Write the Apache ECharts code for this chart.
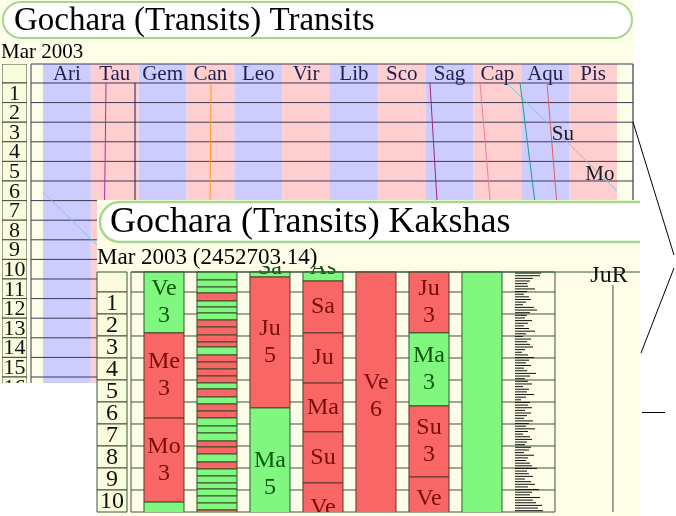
<!DOCTYPE html>
<html>
<head>
<meta charset="utf-8">
<script src="https://cdn.jsdelivr.net/npm/echarts@6/dist/echarts.min.js"></script>
<style>
html,body{margin:0;padding:0;background:#ffffff;}
#chart{width:676px;height:516px;}
</style>
</head>
<body>
<div id="chart"></div>
<script>
// ---------------- DATA ----------------
const backTitle = 'Gochara (Transits) Transits';
const backSubtitle = 'Mar 2003';
const frontTitle = 'Gochara (Transits) Kakshas';
const frontSubtitle = 'Mar 2003 (2452703.14)';

const signNames = ['Ari','Tau','Gem','Can','Leo','Vir','Lib','Sco','Sag','Cap','Aqu','Pis'];
const backDays = [1,2,3,4,5,6,7,8,9,10,11,12,13,14,15,16];

// planet tracks: [sidereal longitude in degrees, days elapsed]
const sunTrack     = [[316.1,0],[319.1,3],[322.1,6],[325.1,9],[328.1,12],[331.4,15.3]];
const moonTrackA   = [[291,0],[303.5,1],[316,2],[328.5,3],[341,4],[353.5,5],[360,5.52]];
const moonTrackB   = [[0,5.56],[5.5,6],[18,7],[30.5,8],[43,9],[55.5,10],[68,11],[80.5,12],[93,13],[105.5,14],[118,15],[122,15.3]];
const mercuryTrack = [[299.2,0],[303.8,3],[308.4,6],[313.0,9],[317.6,12],[322.2,15.3]];
const venusTrack   = [[274.1,0],[277.3,3],[280.4,6],[283.6,9],[286.8,12],[290.2,15.3]];
const marsTrack    = [[242.7,0],[244.9,3],[247.1,6],[249.3,9],[251.5,12],[253.8,15.3]];
const jupiterTrack = [[105.4,0],[105.1,3],[104.8,6],[104.5,9],[104.3,12],[104.1,15.3]];
const saturnTrack  = [[57.7,0],[57.7,6],[57.8,12],[57.9,15.3]];
const rahuTrack    = [[39.5,0],[39.1,3],[38.6,6],[38.3,9],[38.1,12],[38.0,15.3]];
const planetLabels = [['Su',326.1,2.65],['Mo',349.3,4.69]];

const frontRows = [1,2,3,4,5,6,7,8,9,10];
// kaksha segments: [start deg, end deg, good(1)/bad(0), planet, count]
const kakshaCol1 = [[-0.909,1.86,1,'Ve','3'],[1.86,5.73,0,'Me','3'],[5.73,9.55,0,'Mo','3'],[9.55,13.4,1,'','']];
const kakshaStripes = [[-0.909,-0.545,1],[-0.545,-0.227,1],[-0.227,0.045,1],[0.045,0.409,0],[0.409,0.682,1],
  [0.682,0.955,1],[0.955,1.273,1],[1.273,1.591,0],[1.591,1.955,0],[1.955,2.273,0],[2.273,2.5,0],[2.5,2.864,1],
  [2.864,3.182,0],[3.182,3.5,0],[3.5,3.818,0],[3.818,4.136,0],[4.136,4.409,1],[4.409,4.773,0],[4.773,5.091,1],
  [5.091,5.409,0],[5.409,5.727,0],[5.727,6.091,1],[6.091,6.409,1],[6.409,6.773,1],[6.773,7.045,0],[7.045,7.364,0],
  [7.364,7.727,1],[7.727,8.045,0],[8.045,8.364,1],[8.364,8.682,1],[8.682,8.955,1],[8.955,9.273,1],[9.273,9.591,1],
  [9.591,9.909,1],[9.909,10.227,0]];
const kakshaCol3 = [[-1.52,-0.68,1,'Sa',''],[-0.68,5.27,0,'Ju','5'],[5.27,11.33,1,'Ma','5']];
const kakshaCol4 = [[-1.7,-0.5,1,'As',''],[-0.5,1.86,0,'Sa',''],[1.86,4.14,0,'Ju',''],[4.14,6.36,0,'Ma',''],[6.36,8.68,0,'Su',''],[8.68,10.95,0,'Ve','']];
const kakshaCol5 = [[-0.909,10.41,0,'Ve','6']];
const kakshaCol6 = [[-0.909,1.86,0,'Ju','3'],[1.86,5.18,1,'Ma','3'],[5.18,8.41,0,'Su','3'],[8.41,11.59,0,'Ve','3']];
const kakshaCol7 = [[-0.909,10.5,1,'','']];
// small marks column: [deg, length]
const tickMarks = [[-0.86,26],[-0.74,25],[-0.62,18],[-0.50,15],[-0.38,12],[-0.26,13],[-0.14,20],[-0.02,12],[0.10,9],[0.22,14],
  [0.34,16],[0.46,11],[0.58,8],[0.70,19],[0.82,22],[0.94,15],[1.06,12],[1.18,10],[1.30,17],[1.42,13],[1.54,9],[1.66,14],
  [1.78,20],[1.90,11],[2.02,8],[2.14,16],[2.26,12],[2.38,15],[2.50,18],[2.62,10],[2.74,7],[2.86,13],[2.98,19],[3.10,14],
  [3.22,11],[3.34,16],[3.46,9],[3.58,12],[3.70,21],[3.82,15],[3.94,10],[4.06,13],[4.18,17],[4.30,8],[4.42,14],[4.54,12],
  [4.66,19],[4.78,11],[4.90,6],[5.02,15],[5.14,13],[5.26,17],[5.38,10],[5.50,16],[5.62,12],[5.74,9],[5.86,18],[5.98,14],
  [6.10,11],[6.22,20],[6.34,13],[6.46,8],[6.58,15],[6.70,17],[6.82,12],[6.94,10],[7.06,16],[7.18,14],[7.30,9],[7.42,19],
  [7.54,13],[7.66,11],[7.78,15],[7.90,17],[8.02,22],[8.14,12],[8.26,14],[8.38,18],[8.50,10],[8.62,16],[8.74,20],[8.86,13],
  [8.98,24],[9.10,17],[9.22,15],[9.34,25],[9.46,18],[9.58,21],[9.70,27],[9.82,23],[9.94,28]];
const retroMarkers = [['JuR',9.094]];

// ---------------- LAYOUT / STYLE ----------------
const SERIF = '"Liberation Serif","DejaVu Serif",serif';
const C = {cream:'#fdfde8', cell:'#fbfbdd', blue:'#ccccff', pink:'#ffcfcf', green:'#80f880', red:'#f86666',
  backLine:'#3a3a58', frontLine:'#3a563a', segLine:'#5a3a2a', redText:'#7a0c0c', greenText:'#0c560c', titleStroke:'#a9d58f'};
const BACK_LON_MIN = -7.53, BACK_LON_MAX = 370.04, BACK_DAY_MIN = -0.969, BACK_DAY_MAX = 15.306;
const FRONT_DEG_MIN = -1.1818, FRONT_DEG_MAX = 10, FRONT_TABLE_TOP = -0.909, FRONT_SLOT_MAX = 9.604, BAR_OFF = 0.245;

function rectBetween(api, x0, y0, x1, y1) {
  const a = api.coord([x0, y0]), b = api.coord([x1, y1]);
  return {x: Math.min(a[0], b[0]), y: Math.min(a[1], b[1]), width: Math.abs(b[0] - a[0]), height: Math.abs(b[1] - a[1])};
}
function lineBetween(api, x0, y0, x1, y1, color, w) {
  const a = api.coord([x0, y0]), b = api.coord([x1, y1]);
  return {type: 'line', shape: {x1: a[0], y1: a[1], x2: b[0], y2: b[1]}, style: {stroke: color, lineWidth: w || 1}};
}

const frontSegs = [];
[[0, kakshaCol1], [2, kakshaCol3], [3, kakshaCol4], [4, kakshaCol5], [5, kakshaCol6], [6, kakshaCol7]].forEach(([slot, col]) => {
  col.forEach(s => frontSegs.push({slot, y0: s[0], y1: s[1], good: s[2], name: s[3], count: s[4]}));
});

const chart = echarts.init(document.getElementById('chart'), null, {renderer: 'canvas'});
const hidden = {show: false};
const option = {
  animation: false,
  grid: [
    {left: 2, top: 64, width: 25, height: 319},
    {left: 31, top: 64, width: 602, height: 319},
    {left: 97, top: 266, width: 30, height: 246},
    {left: 131, top: 266, width: 509, height: 246},
    {left: 515, top: 266, width: 30, height: 246}
  ],
  xAxis: [
    Object.assign({type: 'value', gridIndex: 0, min: 0, max: 1}, hidden),
    Object.assign({type: 'value', gridIndex: 1, min: BACK_LON_MIN, max: BACK_LON_MAX}, hidden),
    Object.assign({type: 'value', gridIndex: 2, min: 0, max: 1}, hidden),
    Object.assign({type: 'value', gridIndex: 3, min: 0, max: FRONT_SLOT_MAX}, hidden),
    Object.assign({type: 'value', gridIndex: 4, min: 0, max: 30}, hidden)
  ],
  yAxis: [
    Object.assign({type: 'value', gridIndex: 0, min: BACK_DAY_MIN, max: BACK_DAY_MAX, inverse: true}, hidden),
    Object.assign({type: 'value', gridIndex: 1, min: BACK_DAY_MIN, max: BACK_DAY_MAX, inverse: true}, hidden),
    Object.assign({type: 'value', gridIndex: 2, min: FRONT_DEG_MIN, max: FRONT_DEG_MAX, inverse: true}, hidden),
    Object.assign({type: 'value', gridIndex: 3, min: FRONT_DEG_MIN, max: FRONT_DEG_MAX, inverse: true}, hidden),
    Object.assign({type: 'value', gridIndex: 4, min: FRONT_DEG_MIN, max: FRONT_DEG_MAX, inverse: true}, hidden)
  ],
  graphic: {elements: [
    {type: 'rect', z: 0, silent: true, shape: {x: 0, y: 0, width: 633, height: 383}, style: {fill: C.cream}},
    {type: 'rect', z: 1, silent: true, shape: {x: 3, y: 2, width: 629, height: 36, r: 18}, style: {fill: '#ffffff', stroke: C.titleStroke, lineWidth: 2}},
    {type: 'text', z: 1, silent: true, style: {text: backTitle, x: 14, y: 21, verticalAlign: 'middle', font: '33px ' + SERIF, fill: '#000'}},
    {type: 'text', z: 1, silent: true, style: {text: backSubtitle, x: 1, y: 52, verticalAlign: 'middle', font: '21px ' + SERIF, fill: '#000'}},
    {type: 'rect', z: 10, silent: true, shape: {x: 97, y: 200, width: 543, height: 316}, style: {fill: C.cream}},
    {type: 'rect', z: 11, silent: true, shape: {x: 100, y: 202, width: 570, height: 40, r: [20, 0, 0, 20]}, style: {fill: '#ffffff', stroke: C.titleStroke, lineWidth: 2.5}},
    {type: 'text', z: 11, silent: true, style: {text: frontTitle, x: 110, y: 223, verticalAlign: 'middle', font: '36px ' + SERIF, fill: '#000'}},
    {type: 'text', z: 11, silent: true, style: {text: frontSubtitle, x: 97, y: 258, verticalAlign: 'middle', font: '23px ' + SERIF, fill: '#000'}},
    {type: 'rect', z: 30, silent: true, shape: {x: 640, y: 196, width: 36, height: 320}, style: {fill: '#ffffff'}},
    {type: 'polyline', z: 31, silent: true, shape: {points: [[633, 122], [674, 255]]}, style: {stroke: '#000', lineWidth: 1, fill: null}},
    {type: 'polyline', z: 31, silent: true, shape: {points: [[674, 268], [641, 353]]}, style: {stroke: '#000', lineWidth: 1, fill: null}},
    {type: 'polyline', z: 31, silent: true, shape: {points: [[642, 412.5], [665, 412.5]]}, style: {stroke: '#000', lineWidth: 1, fill: null}}
  ]},
  series: [
    // ---- back window: number column
    {type: 'custom', xAxisIndex: 0, yAxisIndex: 0, z: 3, silent: true, clip: true,
     data: [[BACK_DAY_MIN, 0]].concat(backDays.map(d => [d - 1, d])),
     renderItem: (p, api) => {
       const r = rectBetween(api, 0, api.value(0), 1, api.value(1));
       const label = p.dataIndex === 0 ? '' : String(backDays[p.dataIndex - 1]);
       return {type: 'group', children: [
         {type: 'rect', shape: r, style: {fill: C.cell, stroke: '#3c503c', lineWidth: 1}},
         {type: 'text', style: {text: label, x: r.x + r.width / 2, y: r.y + r.height / 2 + 1,
           align: 'center', verticalAlign: 'middle', font: '22px ' + SERIF, fill: '#111'}}
       ]};
     }},
    // ---- back window: sign bands + labels
    {type: 'custom', xAxisIndex: 1, yAxisIndex: 1, z: 2, silent: true, clip: true,
     data: signNames.map((s, i) => [i * 30, i * 30 + 30]),
     renderItem: (p, api) => {
       const i = p.dataIndex;
       const r = rectBetween(api, api.value(0), BACK_DAY_MIN, api.value(1), BACK_DAY_MAX);
       const cy = api.coord([0, BACK_DAY_MIN / 2])[1];
       return {type: 'group', children: [
         {type: 'rect', shape: r, style: {fill: i % 2 ? C.pink : C.blue}},
         {type: 'text', style: {text: signNames[i], x: r.x + r.width / 2, y: cy + 1, align: 'center', verticalAlign: 'middle',
           font: '21px ' + SERIF, fill: '#1e1e52'}}
       ]};
     }},
    // ---- back window: row lines & frame
    {type: 'custom', xAxisIndex: 1, yAxisIndex: 1, z: 3, silent: true,
     data: [[BACK_DAY_MIN]].concat(backDays.map(d => [d - 1])),
     renderItem: (p, api) => {
       const y = api.value(0);
       const children = [lineBetween(api, BACK_LON_MIN, y, BACK_LON_MAX, y, C.backLine, 1)];
       if (p.dataIndex === 0) {
         children.push(lineBetween(api, BACK_LON_MIN, BACK_DAY_MIN, BACK_LON_MIN, BACK_DAY_MAX, C.backLine, 1));
         children.push(lineBetween(api, BACK_LON_MAX, BACK_DAY_MIN, BACK_LON_MAX, BACK_DAY_MAX, C.backLine, 1.2));
       }
       return {type: 'group', children};
     }},
    // ---- back window: planet tracks
    ...[[sunTrack, '#e0605a'], [moonTrackA, '#7cc4e8'], [moonTrackB, '#7cc4e8'], [mercuryTrack, '#1e9e82'],
        [venusTrack, '#f07aa8'], [marsTrack, '#a0286e'], [jupiterTrack, '#ff9a1a'], [saturnTrack, '#1a1a5a'], [rahuTrack, '#b030a0']]
      .map(([d, col]) => ({type: 'line', xAxisIndex: 1, yAxisIndex: 1, z: 4, silent: true, data: d, showSymbol: false,
        symbol: 'none', clip: true, lineStyle: {color: col, width: 1}})),
    // ---- back window: planet labels
    {type: 'custom', xAxisIndex: 1, yAxisIndex: 1, z: 5, silent: true,
     data: planetLabels.map(l => [l[1], l[2]]),
     renderItem: (p, api) => {
       const pt = api.coord([api.value(0), api.value(1)]);
       return {type: 'text', style: {text: planetLabels[p.dataIndex][0], x: pt[0], y: pt[1], align: 'center', verticalAlign: 'middle',
         font: '21px ' + SERIF, fill: '#1a1a1a'}};
     }},
    // ---- front window: number column
    {type: 'custom', xAxisIndex: 2, yAxisIndex: 2, z: 12, silent: true,
     data: [[FRONT_TABLE_TOP, 0]].concat(frontRows.map(d => [d - 1, d])),
     renderItem: (p, api) => {
       const r = rectBetween(api, 0, api.value(0), 1, api.value(1));
       const label = p.dataIndex === 0 ? '' : String(frontRows[p.dataIndex - 1]);
       return {type: 'group', children: [
         {type: 'rect', shape: r, style: {fill: C.cell, stroke: C.frontLine, lineWidth: 1}},
         {type: 'text', style: {text: label, x: r.x + r.width / 2, y: r.y + r.height / 2 + 1, align: 'center', verticalAlign: 'middle',
           font: '24px ' + SERIF, fill: '#111'}}
       ]};
     }},
    // ---- front window: row lines and frame
    {type: 'custom', xAxisIndex: 3, yAxisIndex: 3, z: 12, silent: true,
     data: [[FRONT_TABLE_TOP]].concat(frontRows.map(d => [d - 1])).concat([[frontRows[frontRows.length - 1]]]),
     renderItem: (p, api) => {
       const y = api.value(0);
       const children = [lineBetween(api, 0, y, 8, y, C.frontLine, 1)];
       if (p.dataIndex === 0) {
         children.push(lineBetween(api, 0, FRONT_TABLE_TOP, 0, FRONT_DEG_MAX, C.frontLine, 1));
         children.push(lineBetween(api, 8, FRONT_TABLE_TOP, 8, FRONT_DEG_MAX, C.frontLine, 1));
       }
       return {type: 'group', children};
     }},
    // ---- front window: striped column
    {type: 'custom', xAxisIndex: 3, yAxisIndex: 3, z: 13, silent: true, clip: true,
     data: kakshaStripes.map(s => [1, s[0], s[1], s[2]]),
     renderItem: (p, api) => {
       const slot = api.value(0);
       const r = rectBetween(api, slot + BAR_OFF, Math.max(api.value(1), FRONT_TABLE_TOP), slot + 1, api.value(2));
       return {type: 'rect', shape: r, style: {fill: api.value(3) ? C.green : C.red, stroke: '#3a4a2a', lineWidth: 1}};
     }},
    // ---- front window: kaksha segments
    {type: 'custom', xAxisIndex: 3, yAxisIndex: 3, z: 13, silent: true, clip: true,
     data: frontSegs.map(s => [s.slot, s.y0, s.y1, s.good]),
     renderItem: (p, api) => {
       const s = frontSegs[p.dataIndex];
       const r = rectBetween(api, s.slot + BAR_OFF, Math.max(s.y0, FRONT_TABLE_TOP), s.slot + 1, s.y1);
       const cy = api.coord([0, (s.y0 + s.y1) / 2])[1];
       const text = s.count ? s.name + '\n' + s.count : s.name;
       return {type: 'group', children: [
         {type: 'rect', shape: r, style: {fill: s.good ? C.green : C.red, stroke: s.good ? '#2e5a2e' : C.segLine, lineWidth: 1}},
         {type: 'text', style: {text, x: r.x + r.width / 2, y: cy, align: 'center', verticalAlign: 'middle', lineHeight: 27,
           font: '24px ' + SERIF, fill: s.good ? C.greenText : C.redText}}
       ]};
     }},
    // ---- front window: tick marks column
    {type: 'custom', xAxisIndex: 4, yAxisIndex: 4, z: 13, silent: true,
     data: tickMarks,
     renderItem: (p, api) => lineBetween(api, 0, api.value(0), api.value(1), api.value(0), '#111', 1)},
    // ---- front window: retrograde marker + top border
    {type: 'custom', xAxisIndex: 3, yAxisIndex: 3, z: 14, silent: true,
     data: retroMarkers.map(m => [m[1]]),
     renderItem: (p, api) => {
       const x = api.value(0);
       const top = api.coord([x, FRONT_TABLE_TOP]);
       const bot = api.coord([x, FRONT_DEG_MAX]);
       return {type: 'group', children: [
         lineBetween(api, 0, FRONT_TABLE_TOP, FRONT_SLOT_MAX, FRONT_TABLE_TOP, C.frontLine, 1),
         {type: 'line', shape: {x1: top[0], y1: top[1] + 13, x2: bot[0], y2: bot[1]}, style: {stroke: C.frontLine, lineWidth: 1}},
         {type: 'text', style: {text: retroMarkers[p.dataIndex][0], x: top[0] - 4, y: top[1] + 4, align: 'center', verticalAlign: 'middle',
           font: '24px ' + SERIF, fill: '#111'}}
       ]};
     }}
  ]
};
chart.setOption(option);
</script>
</body>
</html>
